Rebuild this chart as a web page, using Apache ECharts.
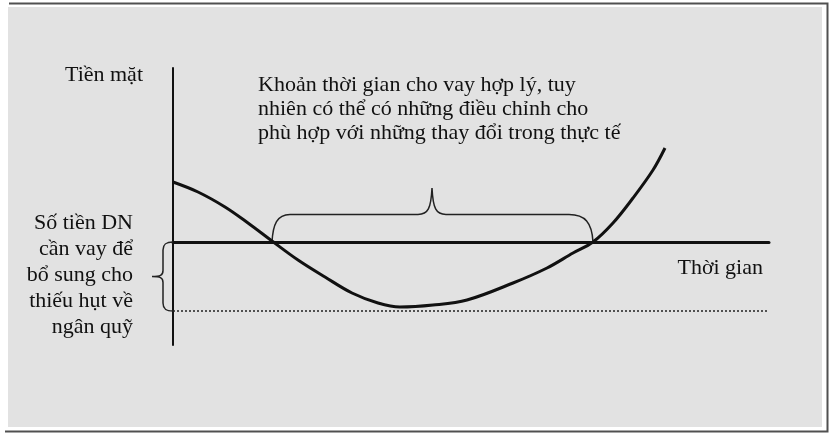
<!DOCTYPE html>
<html>
<head>
<meta charset="utf-8">
<script src="https://cdn.jsdelivr.net/npm/echarts@6/dist/echarts.min.js"></script>
<style>
  html, body { margin: 0; padding: 0; background: #fff; }
  #chart { width: 836px; height: 434px; }
</style>
</head>
<body>
<div id="chart"></div>
<script>
// đường tiền mặt theo thời gian
var timeX = [0, 2.5, 5.2, 7.5, 9.9, 12.5, 15.2, 17.9, 20.5, 22.7, 26.0, 29.4, 34.0, 37.4, 40.0, 42.0, 44.0, 46.0, 48.0, 49.2];
var cashY = [6.0, 5.0, 3.5, 1.9, 0.1, -1.8, -3.5, -5.1, -6.1, -6.5, -6.3, -5.8, -4.1, -2.6, -1.1, 0, 1.9, 4.4, 7.2, 9.4];
var shortfall = -6.9;                 // mức thiếu hụt ngân quỹ (đường chấm)
var loanStart = 9.9, loanEnd = 42.0;  // khoản thời gian cho vay
var braceLevel = 2.75, bracePeakX = 25.9, bracePeakY = 5.4;
var xMin = 0, xMax = 59.6, yMin = -10.3, yMax = 17.4;

var noteLines = [
  'Khoản thời gian cho vay hợp lý, tuy',
  'nhiên có thể có những điều chỉnh cho',
  'phù hợp với những thay đổi trong thực tế'
];
var leftLines = ['Số tiền DN', 'cần vay để', 'bổ sung cho', 'thiếu hụt về', 'ngân quỹ'];

var FONT = '"Liberation Serif", "DejaVu Serif", serif';
var INK = '#111';

var curve = timeX.map(function (x, i) { return [x, cashY[i]]; });

// ngoặc nhọn phía trên (khoảng thời gian cho vay)
function topBrace(params, api) {
  var a = api.coord([api.value(0), 0]);
  var e = api.coord([api.value(1), 0]);
  var lv = api.coord([api.value(0), api.value(2)])[1];
  var p = api.coord([api.value(3), api.value(4)]);
  var d = 'M' + a[0] + ' ' + a[1] +
    ' C' + (a[0] + 1) + ' ' + (lv + 10) + ' ' + (a[0] + 5) + ' ' + lv + ' ' + (a[0] + 18) + ' ' + lv +
    ' L' + (p[0] - 14) + ' ' + lv +
    ' C' + (p[0] - 4) + ' ' + lv + ' ' + (p[0] - 1) + ' ' + (lv - 6) + ' ' + p[0] + ' ' + p[1] +
    ' C' + (p[0] + 1) + ' ' + (lv - 6) + ' ' + (p[0] + 4) + ' ' + lv + ' ' + (p[0] + 14) + ' ' + lv +
    ' L' + (e[0] - 24) + ' ' + lv +
    ' C' + (e[0] - 8) + ' ' + lv + ' ' + (e[0] - 1) + ' ' + (lv + 8) + ' ' + e[0] + ' ' + e[1];
  return { type: 'path', shape: { pathData: d }, style: { fill: null, stroke: '#222', lineWidth: 1.5 } };
}

// ngoặc nhọn bên trái (số tiền cần vay)
function leftBrace(params, api) {
  var t = api.coord([api.value(0), api.value(1)]);
  var b = api.coord([api.value(0), api.value(2)]);
  var bx = t[0] - 10, tip = t[0] - 21, m = (t[1] + b[1]) / 2;
  var d = 'M' + t[0] + ' ' + t[1] +
    ' C' + (bx + 3) + ' ' + t[1] + ' ' + bx + ' ' + (t[1] + 2) + ' ' + bx + ' ' + (t[1] + 8) +
    ' L' + bx + ' ' + (m - 6) +
    ' C' + bx + ' ' + (m - 1) + ' ' + (bx - 3) + ' ' + m + ' ' + tip + ' ' + m +
    ' C' + (bx - 3) + ' ' + m + ' ' + bx + ' ' + (m + 1) + ' ' + bx + ' ' + (m + 6) +
    ' L' + bx + ' ' + (b[1] - 8) +
    ' C' + bx + ' ' + (b[1] - 2) + ' ' + (bx + 3) + ' ' + b[1] + ' ' + t[0] + ' ' + b[1];
  return { type: 'path', shape: { pathData: d }, style: { fill: null, stroke: '#222', lineWidth: 1.5 } };
}

var option = {
  animation: false,
  grid: { left: 173, top: 68, width: 596, height: 277 },
  graphic: [
    { type: 'rect', z: -10, shape: { x: 8, y: 7, width: 814, height: 420 },
      style: { fill: '#e2e2e2' } },
    { type: 'polyline', z: -9, shape: { points: [[9, 3.5], [827.5, 3.5], [827.5, 431.5], [5, 431.5]] },
      style: { fill: null, stroke: '#505050', lineWidth: 2 } },
    { type: 'text', x: 258, y: 73, z: 10,
      style: { text: noteLines.join('\n'), font: '22px ' + FONT, fill: INK, lineHeight: 24 } },
    { type: 'text', x: 133, y: 210, z: 10,
      style: { text: leftLines.join('\n'), font: '22px ' + FONT, fill: INK, lineHeight: 26, align: 'right' } }
  ],
  xAxis: {
    type: 'value', min: xMin, max: xMax,
    name: 'Thời gian', nameLocation: 'end', nameGap: -6,
    nameTextStyle: { color: INK, fontFamily: FONT, fontSize: 22, align: 'right', verticalAlign: 'top', padding: [15, 0, 0, 0] },
    axisLine: { onZero: true, lineStyle: { color: INK, width: 3 } },
    axisTick: { show: false }, axisLabel: { show: false }, splitLine: { show: false }
  },
  yAxis: {
    type: 'value', min: yMin, max: yMax,
    name: 'Tiền mặt', nameLocation: 'end', nameGap: -7,
    nameTextStyle: { color: INK, fontFamily: FONT, fontSize: 22, align: 'right', verticalAlign: 'middle', padding: [0, 30, 0, 0] },
    axisLine: { show: true, lineStyle: { color: INK, width: 2 } },
    axisTick: { show: false }, axisLabel: { show: false }, splitLine: { show: false }
  },
  series: [
    {
      type: 'line', data: curve, smooth: 0.35, symbol: 'none',
      lineStyle: { color: INK, width: 3 },
      markLine: {
        silent: true, symbol: 'none', label: { show: false },
        lineStyle: { color: '#222', width: 1.5, type: [2, 2] },
        data: [{ yAxis: shortfall }]
      }
    },
    {
      type: 'custom', renderItem: topBrace, silent: true,
      encode: { x: [0, 1, 3], y: [2, 4] },
      data: [[loanStart, loanEnd, braceLevel, bracePeakX, bracePeakY]]
    },
    {
      type: 'custom', renderItem: leftBrace, silent: true,
      encode: { x: 0, y: [1, 2] },
      data: [[xMin, 0, shortfall]]
    }
  ]
};

var myChart = echarts.init(document.getElementById('chart'));
myChart.setOption(option);
</script>
</body>
</html>
